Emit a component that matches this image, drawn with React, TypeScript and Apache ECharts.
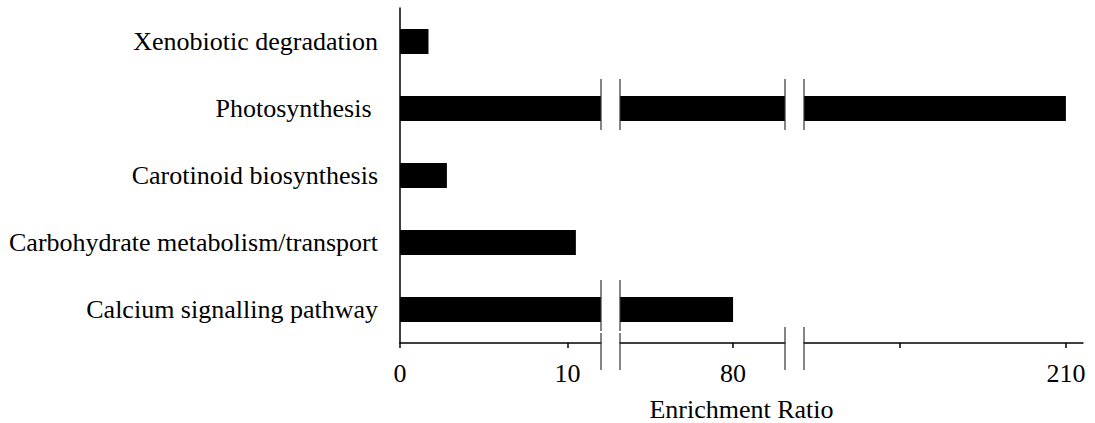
import React, { useEffect, useRef } from 'react';
import * as echarts from 'echarts';

// Pathway categories, top to bottom
const categories = [
  'Xenobiotic degradation',
  'Photosynthesis ',
  'Carotinoid biosynthesis',
  'Carbohydrate metabolism/transport',
  'Calcium signalling pathway',
];

// Enrichment ratio per pathway
const enrichment = [1.7, 210, 2.8, 10.5, 80];

// The value axis is broken into three pieces, each with its own range
const segmentMin = [0, 73.25, 194.22];
const segmentMax = [12, 83.1, 211.03];
const segmentTicks = [[0, 10], [80], [200, 210]];
const segmentLabels = [[0, 10], [80], [210]];

const axisTitle = 'Enrichment Ratio';

// Pixel layout of the three axis pieces
const PIECE_LEFT = [400, 620, 804];
const PIECE_WIDTH = [201, 165, 279];
const PLOT_TOP = 8;
const PLOT_HEIGHT = 335;
const BAR_HEIGHT = 25;
const FONT = 'Liberation Serif';
const BREAK_COLOR = '#333';

export default function App() {
  const ref = useRef<HTMLDivElement>(null);

  useEffect(() => {
    if (!ref.current) return;
    const chart = echarts.init(ref.current, undefined, { renderer: 'svg' });

    const pieces = [0, 1, 2];

    const grid = pieces.map((i) => ({
      left: PIECE_LEFT[i],
      top: PLOT_TOP,
      width: PIECE_WIDTH[i],
      height: PLOT_HEIGHT,
      outerBoundsMode: 'none',
      containLabel: false,
    }));

    const xAxis = pieces.map((i) => ({
      type: 'value',
      gridIndex: i,
      min: segmentMin[i],
      max: segmentMax[i],
      splitLine: { show: false },
      axisLine: { show: true, lineStyle: { color: '#000', width: 1.5 } },
      axisTick: {
        show: true,
        inside: false,
        length: 5,
        customValues: segmentTicks[i],
        lineStyle: { color: '#000', width: 1.5 },
      },
      axisLabel: {
        show: true,
        customValues: segmentLabels[i],
        color: '#000',
        fontFamily: FONT,
        fontSize: 26,
        margin: 17,
        showMinLabel: true,
        showMaxLabel: true,
      },
    }));

    const yAxis = pieces.map((i) => ({
      type: 'category',
      gridIndex: i,
      data: categories,
      inverse: true,
      show: i === 0,
      axisLine: { show: true, lineStyle: { color: '#000', width: 1.5 } },
      axisTick: { show: false },
      splitLine: { show: false },
      axisLabel: {
        color: '#000',
        fontFamily: FONT,
        fontSize: 26,
        margin: 22,
      },
    }));

    const series = pieces.map((i) => ({
      type: 'bar',
      xAxisIndex: i,
      yAxisIndex: i,
      barWidth: BAR_HEIGHT,
      clip: true,
      silent: true,
      itemStyle: { color: '#000' },
      data: enrichment.map((v) => (v > segmentMin[i] ? v : '-')),
    }));

    chart.setOption({
      animation: false,
      backgroundColor: '#fff',
      textStyle: { fontFamily: FONT },
      grid,
      xAxis,
      yAxis,
      series,
    });

    // Break marks: pairs of vertical strokes at each gap, across bars and the axis
    const axisY = PLOT_TOP + PLOT_HEIGHT;
    const elements: any[] = [];
    const stroke = (x: number, y1: number, y2: number) => ({
      type: 'line',
      silent: true,
      z: 100,
      shape: { x1: x, y1, x2: x, y2 },
      style: { stroke: BREAK_COLOR, lineWidth: 1.2 },
    });
    for (let g = 0; g < pieces.length - 1; g++) {
      const xs = [PIECE_LEFT[g] + PIECE_WIDTH[g], PIECE_LEFT[g + 1]];
      let axisTop = axisY - 16;
      categories.forEach((c, k) => {
        if (enrichment[k] > segmentMax[g]) {
          const cy = chart.convertToPixel({ yAxisIndex: 0 }, c) as number;
          const top = cy - BAR_HEIGHT / 2 - 17;
          const bottom = cy + BAR_HEIGHT / 2 + 9;
          xs.forEach((x) => elements.push(stroke(x, top, bottom)));
          if (bottom + 2 > axisTop) axisTop = bottom + 2;
        }
      });
      xs.forEach((x) => elements.push(stroke(x, axisTop, axisY + 27)));
    }

    const fullLeft = PIECE_LEFT[0];
    const fullRight = PIECE_LEFT[2] + PIECE_WIDTH[2];
    elements.push({
      type: 'text',
      silent: true,
      style: {
        text: axisTitle,
        x: (fullLeft + fullRight) / 2,
        y: 409,
        align: 'center',
        verticalAlign: 'middle',
        fill: '#000',
        fontFamily: FONT,
        fontSize: 26,
      },
    });

    chart.setOption({ graphic: elements });

    return () => chart.dispose();
  }, []);

  return (
    <div
      ref={ref}
      style={{ position: 'fixed', left: 0, top: 0, width: 1095, height: 423, background: '#fff' }}
    />
  );
}
